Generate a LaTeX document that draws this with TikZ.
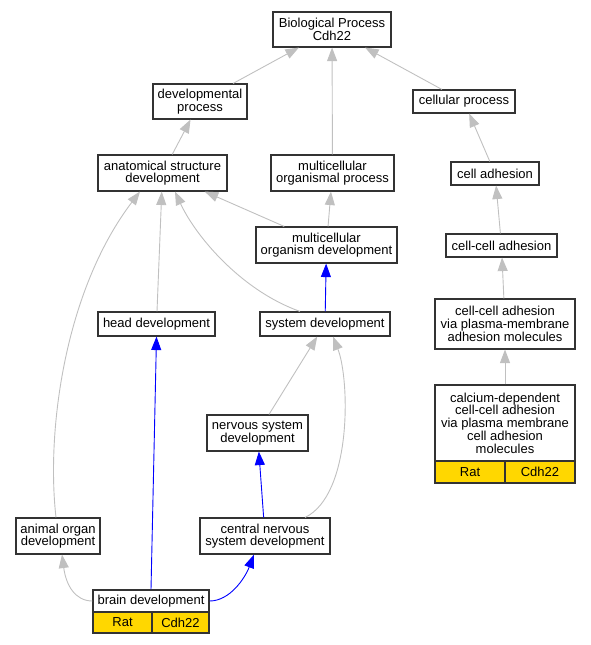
\documentclass[tikz,border=0pt]{standalone}
\usepackage{fontspec}
\setmainfont{Liberation Sans}
\usepackage{tikz}
\usetikzlibrary{arrows.meta}
\definecolor{edgegray}{HTML}{C0C0C0}
\definecolor{goldbox}{HTML}{FFD700}
\tikzset{
  % Stile per i termini (rettangoli)
  go term/.style={
    draw=black!80, line width=1.1pt, fill=white, rectangle,
    inner sep=0pt, align=center,
    font=\fontsize{13}{12.7}\selectfont
  },
  % Stile per le caselle gialle (specie e gene)
  gene box/.style={go term, fill=goldbox},
  % Stile per gli archi grigi
  is a/.style={
    draw=edgegray, line width=0.9pt,
    -{Triangle[length=13.5pt, width=10pt, fill=edgegray]}
  },
  % Stile per gli archi blu
  blue path/.style={is a, draw=blue, -{Triangle[length=13.5pt, width=10pt, fill=blue]}}
}
\begin{document}
\begin{tikzpicture}[x=1pt, y=-1pt]
    \useasboundingbox (0,0) rectangle (591,645);

    % Termini
    \node[go term, minimum width=118pt, minimum height=35pt] (bio) at (332,29.5) {Biological Process\\Cdh22};
    \node[go term, minimum width=94pt, minimum height=35pt] (devproc) at (200,101.5) {developmental\\process};
    \node[go term, minimum width=102pt, minimum height=23pt] (cellproc) at (464,101.5) {cellular process};
    \node[go term, minimum width=129pt, minimum height=36pt] (anat) at (162.5,173) {anatomical structure\\development};
    \node[go term, minimum width=123pt, minimum height=36pt] (mop) at (332.5,173) {multicellular\\organismal process};
    \node[go term, minimum width=88pt, minimum height=23pt] (celladh) at (495,173.5) {cell adhesion};
    \node[go term, minimum width=141pt, minimum height=36pt] (mod) at (326.5,245) {multicellular\\organism development};
    \node[go term, minimum width=111pt, minimum height=23pt] (ccadh) at (501.5,245.5) {cell-cell adhesion};
    \node[go term, minimum width=117pt, minimum height=24pt] (head) at (156.5,324) {head development};
    \node[go term, minimum width=130pt, minimum height=24pt] (sysdev) at (325,324) {system development};
    \node[go term, minimum width=140pt, minimum height=50pt] (ccpm) at (505,324) {cell-cell adhesion\\via plasma-membrane\\adhesion molecules};
    \node[go term, minimum width=140pt, minimum height=76pt] (calc) at (505,423) {calcium-dependent\\cell-cell adhesion\\via plasma membrane\\cell adhesion\\molecules};
    \node[gene box, minimum width=70pt, minimum height=22pt] (calcrat) at (470,472) {Rat};
    \node[gene box, minimum width=70pt, minimum height=22pt] (calcgene) at (540,472) {Cdh22};
    \node[go term, minimum width=101pt, minimum height=36pt] (nsd) at (257.5,433) {nervous system\\development};
    \node[go term, minimum width=84pt, minimum height=36pt] (aod) at (58,536) {animal organ\\development};
    \node[go term, minimum width=130pt, minimum height=36pt] (cnsd) at (265,536) {central nervous\\system development};
    \node[go term, minimum width=116pt, minimum height=22pt] (brain) at (151,601) {brain development};
    \node[gene box, minimum width=59pt, minimum height=21pt] (brainrat) at (122.5,622.5) {Rat};
    \node[gene box, minimum width=57pt, minimum height=21pt] (braingene) at (180.5,622.5) {Cdh22};

    % Archi grigi
    \draw[is a] (devproc) -- (bio);
    \draw[is a] (cellproc) -- (bio);
    \draw[is a] (mop) -- (bio);
    \draw[is a] (anat) -- (devproc);
    \draw[is a] (celladh) -- (cellproc);
    \draw[is a] (mod) -- (mop);
    \draw[is a] (mod) -- (anat);
    \draw[is a] (ccadh) -- (celladh);
    \draw[is a] (ccpm) -- (ccadh);
    \draw[is a] (calc.north) -- (ccpm.south);
    \draw[is a] (head) -- (anat);
    \draw[is a] ([xshift=-25pt]sysdev.north) .. controls (240,290) and (195,235) .. ([xshift=12.5pt]anat.south);
    \draw[is a] ([xshift=-2pt]aod.north) .. controls (46,430) and (65,290) .. ([xshift=-22.5pt]anat.south);
    \draw[is a] (nsd) -- (sysdev);
    \draw[is a] ([xshift=40pt]cnsd.north) .. controls (352,495) and (350,380) .. ([xshift=8pt]sysdev.south);
    \draw[is a] (brain.west) .. controls (75,601) and (66,585) .. ([xshift=4pt]aod.south);

    % Archi blu
    \draw[blue path] (sysdev) -- (mod);
    \draw[blue path] (cnsd) -- (nsd);
    \draw[blue path] (brain.north) -- (head.south);
    \draw[blue path] (brain.east) .. controls (230,601) and (245,578) .. ([xshift=-11pt]cnsd.south);
\end{tikzpicture}
\end{document}
